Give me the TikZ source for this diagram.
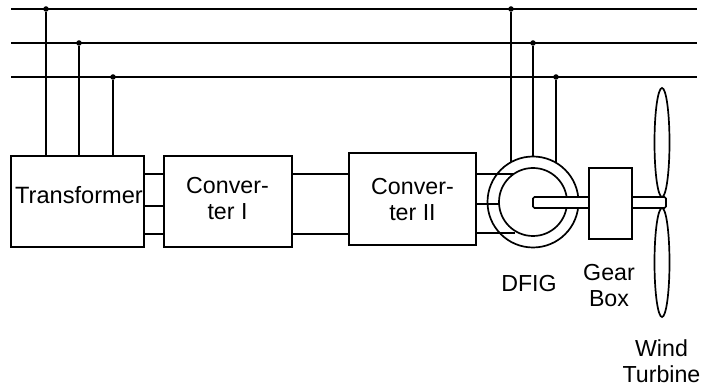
\documentclass[tikz,border=0pt]{standalone}
\usepackage{fontspec}
\setmainfont{Liberation Sans}
\usetikzlibrary{calc,shapes.geometric}
\tikzset{
  wire/.style={line width=1.7pt,black},
  boxnode/.style={draw=black,line width=1.7pt,fill=white,inner sep=0pt,outer sep=0pt},
  lab/.style={inner sep=0pt,align=center,font=\fontsize{23.2}{26}\selectfont},
  dotn/.style={circle,fill=black,inner sep=0pt,minimum size=5.5pt}
}
\begin{document}
\begin{tikzpicture}[x=1pt,y=-1pt]
\useasboundingbox (0,0) rectangle (702,387);
% buses
\foreach \n/\y in {a/9,b/43,c/77}{
  \coordinate (\n L) at (11,\y);
  \coordinate (\n R) at (697,\y);
  \draw[wire] (\n L) -- (\n R);
}
% boxes
\node[boxnode,minimum width=133pt,minimum height=91pt] (tr) at (77.5,201.5) {};
\node[lab,font=\fontsize{23.6}{26}\selectfont] (trt) at (79,195.5) {Transformer};
\node[boxnode,minimum width=128pt,minimum height=91pt] (c1) at (228,201.5) {};
\node[lab] (c1t) at (227.5,198.5) {Conver-\\ter I};
\node[boxnode,minimum width=127pt,minimum height=92pt] (c2) at (412.5,199) {};
\node[lab] (c2t) at (412.5,199.5) {Conver-\\ter II};
% junctions left
\node[dotn] (j1) at (46,9) {};
\node[dotn] (j2) at (79,43) {};
\node[dotn] (j3) at (113,77) {};
\draw[wire] (j1) -- (j1 |- tr.north);
\draw[wire] (j2) -- (j2 |- tr.north);
\draw[wire] (j3) -- (j3 |- tr.north);
% transformer to converter I
\foreach \y in {174,206,234}{
  \draw[wire] (tr.east |- 0,\y) -- (c1.west |- 0,\y);
}
% converter I to II
\foreach \y in {174,234}{
  \draw[wire] (c1.east |- 0,\y) -- (c2.west |- 0,\y);
}
% DFIG
\node[circle,draw=black,line width=1.7pt,fill=white,minimum size=91pt,inner sep=0pt] (outer) at (533,202) {};
\node[dotn] (j4) at (511,9) {};
\node[dotn] (j5) at (533,43) {};
\node[dotn] (j6) at (556,77) {};
\draw[wire] (j4) -- (511,162);
\draw[wire] (j5) -- (outer.north);
\draw[wire] (j6) -- (556,162);
\draw[wire] (c2.east |- 0,174) -- (515,174);
\draw[wire] (c2.east |- 0,204) -- (499,204);
\draw[wire] (c2.east |- 0,233) -- (515,233);
\node[circle,draw=black,line width=1.7pt,fill=white,minimum size=68pt,inner sep=0pt] (inner) at (533,202) {};
% blades
\node[ellipse,draw=black,line width=1.7pt,fill=white,minimum width=15pt,minimum height=109pt,inner sep=0pt] (bladeT) at (662,142.5) {};
\node[ellipse,draw=black,line width=1.7pt,fill=white,minimum width=15pt,minimum height=109pt,inner sep=0pt] (bladeB) at (662,262.5) {};
% shaft
\draw[wire,fill=white,rounded corners=1.5pt] (533,197) rectangle (666,208);
% gear box
\node[boxnode,minimum width=43pt,minimum height=71pt] (gb) at (610.5,203.5) {};
% labels
\node[lab] (l1) at (529,283.5) {DFIG};
\node[lab] (l2) at (609,285.5) {Gear\\Box};
\node[lab] (l3) at (661.5,361.5) {Wind\\Turbine};
\end{tikzpicture}
\end{document}
